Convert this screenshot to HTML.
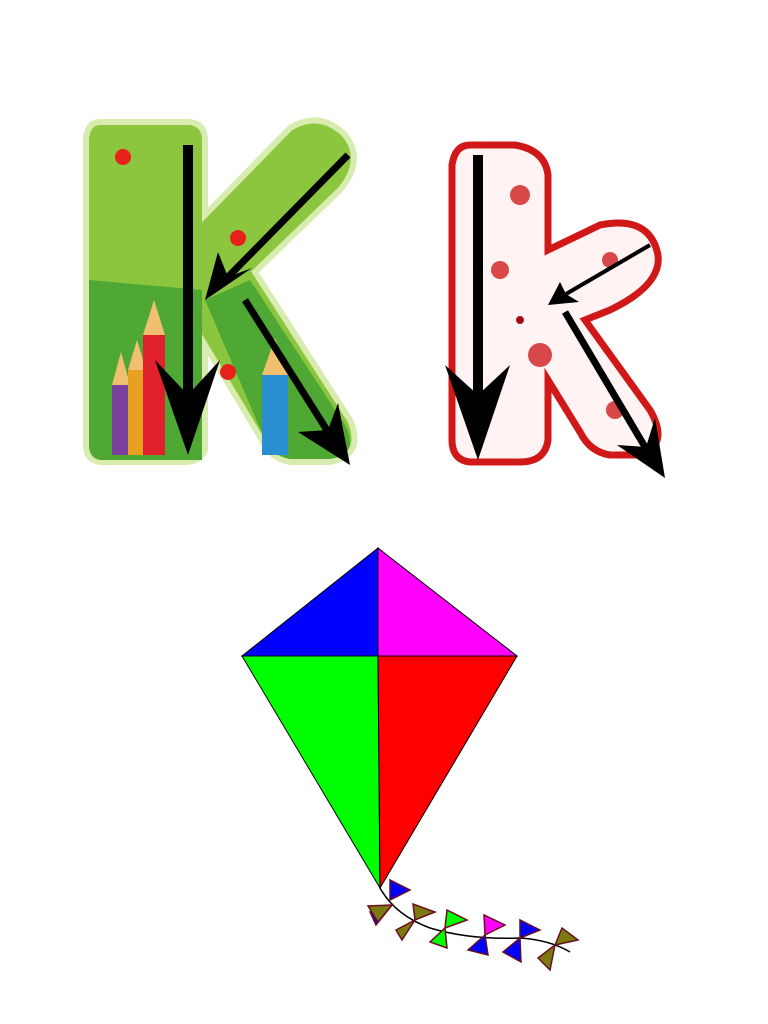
<!DOCTYPE html>
<html><head><meta charset="utf-8"><style>
html,body{margin:0;padding:0;background:#fff;}
svg{display:block;}
</style></head><body>
<svg width="768" height="1024" viewBox="0 0 768 1024">
<defs>
<marker id="ah" markerWidth="6" markerHeight="6" refX="5" refY="3" orient="auto" markerUnits="strokeWidth">
<path d="M0,0 L6,3 L0,6 L1.5,3 Z" fill="#000"/></marker>
</defs>
<!-- Green capital K -->
<g>
<path d="M100,122 L190,122 Q205,124 205,140 L205,215 L290,128 Q320,110 345,135 Q365,160 340,190 L255,272 L350,420 Q365,455 330,462 L290,462 Q270,458 262,440 L205,345 L205,450 Q200,462 185,462 L100,462 Q86,460 86,445 L86,138 Q88,122 100,122 Z" fill="#8cc63f" stroke="#d9ecb0" stroke-width="6"/>
<path d="M89,280 L202,290 L202,460 L100,460 Q89,458 89,445 Z" fill="#4fa833"/>
<path d="M205,300 L250,280 L345,425 Q360,455 330,459 L290,459 Q272,456 265,440 Z" fill="#4fa833"/>
<g>
<rect x="112" y="385" width="18" height="70" fill="#7a3f9d"/>
<polygon points="112,385 121,352 130,385" fill="#f0c070"/>
<rect x="128" y="370" width="18" height="85" fill="#e8a020"/>
<polygon points="128,370 137,340 146,370" fill="#f0c070"/>
<rect x="143" y="335" width="22" height="120" fill="#e0202a"/>
<polygon points="143,335 154,300 165,335" fill="#f0c070"/>
<rect x="262" y="375" width="26" height="80" fill="#2a8fd0"/>
<polygon points="262,375 275,338 288,375" fill="#f0c070"/>
</g>
<circle cx="123" cy="157" r="8" fill="#e8201a"/>
<circle cx="238" cy="238" r="8" fill="#e8201a"/>
<circle cx="228" cy="372" r="8" fill="#e8201a"/>
</g>
<!-- Pink lowercase k -->
<g>
<path d="M470,145 L515,145 Q545,150 548,175 L548,250 L600,225 Q650,215 658,255 Q662,285 610,310 L585,320 L650,410 Q670,445 640,455 L610,455 Q590,452 580,432 L548,380 L548,440 Q545,462 520,462 L470,462 Q452,460 452,440 L452,165 Q455,145 470,145 Z" fill="#fff3f3" stroke="#d01818" stroke-width="7"/>
<circle cx="520" cy="195" r="10" fill="#d84848"/>
<circle cx="540" cy="355" r="12" fill="#d84848"/>
<circle cx="500" cy="270" r="9" fill="#d84848"/>
<circle cx="610" cy="260" r="8" fill="#d84848"/>
<circle cx="615" cy="410" r="9" fill="#d84848"/>
<circle cx="520" cy="320" r="4" fill="#a01010"/>
</g>
<!-- Arrows -->
<g stroke="#000" fill="#000">
<line x1="188" y1="145" x2="188" y2="400" stroke-width="10"/>
<polygon points="155,360 188,455 220,360 188,395" stroke="none"/>
<line x1="348" y1="155" x2="228" y2="277" stroke-width="7"/>
<polygon points="205,300 218,252 228,277 252,268" stroke="none"/>
<line x1="245" y1="300" x2="330" y2="435" stroke-width="7"/>
<polygon points="350,465 298,432 328,430 338,403" stroke="none"/>
<line x1="478" y1="155" x2="478" y2="400" stroke-width="10"/>
<polygon points="445,365 478,460 510,365 478,395" stroke="none"/>
<line x1="650" y1="245" x2="566" y2="294" stroke-width="4"/>
<polygon points="548,305 560,282 566,294 579,302" stroke="none"/>
<line x1="565" y1="312" x2="648" y2="452" stroke-width="7"/>
<polygon points="665,478 617,445 646,447 655,418" stroke="none"/>
</g>
<!-- Kite -->
<g stroke="#000" stroke-width="1">
<polygon points="378,548 242,656 378,656" fill="#0000ff"/>
<polygon points="378,548 517,656 378,656" fill="#ff00ff"/>
<polygon points="242,656 378,656 380,888" fill="#00ff00"/>
<polygon points="517,656 378,656 380,888" fill="#ff0000"/>
</g>
<g stroke="#6a0f20" stroke-width="1.5">
<path d="M380,888 Q395,915 430,928 Q470,940 520,938 Q550,940 570,952" fill="none" stroke="#000" stroke-width="1.5"/>
<polygon points="390,900 390,880 410,890" fill="#0000ff"/>
<polygon points="392,905 370,912 376,925" fill="#0000ff"/>
<polygon points="392,905 378,922 368,906" fill="#7a7a10"/>
<polygon points="415,920 413,904 435,912" fill="#7a7a10"/>
<polygon points="415,920 396,930 402,940" fill="#7a7a10"/>
<polygon points="445,928 447,910 467,920" fill="#00ff00"/>
<polygon points="445,928 430,942 447,948" fill="#00ff00"/>
<polygon points="485,935 484,915 505,925" fill="#ff00ff"/>
<polygon points="485,935 468,950 488,955" fill="#0000ff"/>
<polygon points="520,938 520,920 540,930" fill="#0000ff"/>
<polygon points="520,938 503,952 521,962" fill="#0000ff"/>
<polygon points="555,945 562,928 578,940" fill="#7a7a10"/>
<polygon points="555,945 538,958 550,970" fill="#7a7a10"/>
</g>
</svg>
</body></html>
